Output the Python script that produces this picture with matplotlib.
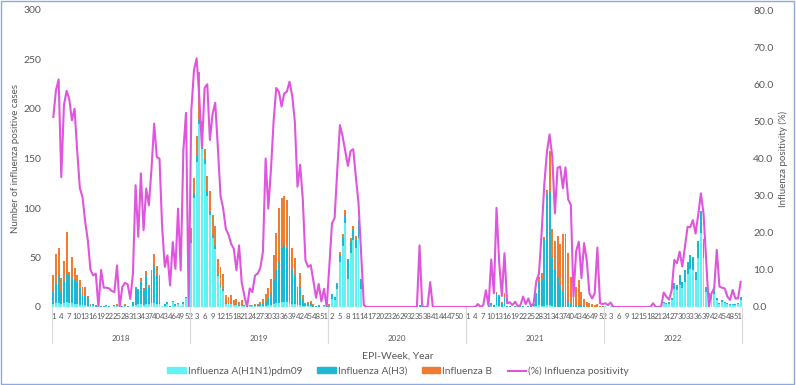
import numpy as np
import matplotlib.pyplot as plt
import matplotlib.transforms as mtransforms
from matplotlib.patches import Rectangle, Patch
from matplotlib.lines import Line2D

plt.rcParams['font.family'] = ['Lato', 'DejaVu Sans']

# data ------------------------------------------------------------
years = ['2018', '2019', '2020', '2021', '2022']

h1n1_2018 = [3, 4, 4, 3, 4, 5, 4, 4, 3, 3, 2, 2, 2, 1, 1, 1, 0, 0, 0, 0, 1, 0, 0, 1, 1, 0,
             0, 1, 0, 0, 1, 2, 3, 3, 2, 3, 3, 4, 4, 3, 3, 1, 1, 3, 0, 5, 1, 3, 1, 3, 9, 0]
h3_2018 = [12, 20, 28, 12, 22, 29, 28, 26, 25, 22, 17, 10, 10, 9, 1, 2, 1, 0, 1, 1, 1, 1, 0, 1, 1, 0,
           1, 1, 1, 0, 4, 17, 14, 22, 15, 28, 17, 27, 38, 29, 26, 0, 2, 2, 1, 1, 2, 1, 0, 2, 1, 0]
b_2018 = [17, 30, 28, 14, 20, 42, 3, 21, 11, 7, 8, 8, 8, 1, 1, 0, 1, 0, 0, 0, 0, 0, 0, 0, 1, 0,
          0, 1, 0, 0, 0, 1, 1, 4, 2, 5, 2, 6, 12, 9, 3, 0, 0, 0, 0, 0, 0, 0, 0, 0, 0, 0]
pos_2018 = [51.2, 58.4, 61.3, 35.0, 54.4, 58.2, 56.0, 50.3, 53.4, 42.0, 32.0, 29.6, 23.0, 18.0,
            10.0, 8.5, 9.0, 0.0, 10.0, 5.2, 5.2, 5.0, 4.3, 4.0, 11.2, 0.0, 5.4, 6.5, 6.1, 2.2,
            9.0, 32.8, 18.9, 36.0, 20.7, 31.9, 27.4, 37.3, 49.4, 40.4, 40.0, 21.6, 10.8, 13.9,
            5.8, 17.5, 10.3, 26.5, 9.9, 42.2, 52.3, 0.0]

h1n1_2019 = [65, 110, 146, 185, 160, 144, 112, 93, 70, 59, 31, 20, 16, 3, 3, 3, 2, 2, 1, 1, 1, 0, 1, 1, 1, 1,
             1, 1, 1, 2, 2, 3, 4, 4, 5, 5, 5, 4, 3, 3, 2, 2, 1, 1, 1, 1, 0, 0, 0, 0, 1, 0]
h3_2019 = [3, 5, 7, 5, 6, 6, 5, 4, 3, 3, 2, 2, 2, 1, 1, 1, 0, 1, 0, 0, 0, 0, 0, 0, 1, 1,
           2, 3, 5, 7, 12, 24, 33, 42, 55, 58, 55, 50, 35, 28, 12, 18, 7, 2, 3, 3, 2, 1, 1, 0, 1, 0]
b_2019 = [12, 15, 20, 47, 22, 10, 15, 20, 20, 20, 15, 18, 15, 8, 6, 8, 5, 5, 4, 6, 1, 0, 1, 1, 1, 1,
          2, 4, 7, 10, 14, 26, 38, 54, 50, 49, 48, 38, 22, 18, 6, 14, 4, 1, 1, 2, 1, 0, 1, 0, 0, 1]
pos_2019 = [53.0, 63.8, 67.0, 56.6, 43.0, 59.0, 60.0, 45.0, 52.0, 55.0, 43.0, 30.0, 26.5, 21.0,
            19.5, 17.0, 15.7, 9.9, 16.6, 6.5, 3.0, 0.0, 5.0, 4.0, 8.5, 9.0, 10.5, 15.0, 40.0, 26.5,
            37.0, 50.0, 59.0, 58.0, 54.0, 57.5, 58.0, 60.7, 57.0, 50.0, 32.4, 38.3, 29.0, 12.6,
            10.8, 11.3, 7.0, 2.5, 6.2, 1.5, 4.9, 0.0]

h1n1_2020 = [0, 8, 7, 18, 45, 62, 85, 28, 55, 68, 60, 70, 18, 0, 0, 0, 0, 0, 0, 0, 0, 0, 0, 0, 0, 0,
             0, 0, 0, 0, 0, 0, 0, 0, 0, 0, 0, 0, 0, 0, 0, 0, 0, 0, 0, 0, 0, 0, 0, 0, 0, 0]
h3_2020 = [1, 5, 3, 5, 8, 8, 8, 20, 12, 11, 8, 18, 10, 0, 0, 0, 0, 0, 0, 0, 0, 0, 0, 0, 0, 0,
           0, 0, 0, 0, 0, 0, 0, 0, 2, 0, 0, 0, 0, 0, 0, 0, 0, 0, 0, 0, 0, 0, 0, 0, 0, 0]
b_2020 = [2, 0, 0, 1, 3, 4, 5, 0, 3, 3, 4, 0, 0, 0, 0, 0, 0, 0, 0, 0, 0, 0, 0, 0, 0, 0,
          0, 0, 0, 0, 0, 0, 0, 0, 0, 0, 0, 0, 0, 0, 0, 0, 0, 0, 0, 0, 0, 0, 0, 0, 0, 0]
pos_2020 = [11.0, 22.5, 24.0, 37.0, 49.0, 46.0, 42.0, 38.0, 42.0, 42.5, 35.0, 28.0, 14.0, 0.5,
            0.0, 0.0, 0.0, 0.0, 0.0, 0.0, 0.0, 0.0, 0.0, 0.0, 0.0, 0.0, 0.0, 0.0, 0.0, 0.0,
            0.0, 0.0, 0.0, 0.0, 16.6, 0.0, 0.0, 0.0, 6.7, 0.0, 0.0, 0.0, 0.0, 0.0, 0.0, 0.0,
            0.0, 0.0, 0.0, 0.0, 0.0, 0.0]

h1n1_2021 = [0, 0, 0, 0, 0, 0, 0, 0, 0, 1, 0, 2, 1, 0, 1, 0, 0, 0, 0, 0, 0, 0, 0, 0, 1, 1,
             1, 2, 1, 1, 2, 2, 1, 0, 0, 0, 0, 0, 0, 0, 0, 0, 0, 0, 0, 0, 0, 0, 0, 0, 0, 0]
h3_2021 = [0, 0, 0, 0, 0, 0, 0, 0, 1, 3, 2, 12, 10, 4, 9, 1, 1, 0, 1, 0, 1, 1, 0, 1, 1, 2,
           12, 24, 26, 68, 112, 115, 48, 38, 30, 22, 15, 10, 5, 3, 1, 2, 2, 1, 1, 0, 0, 0, 0, 0, 0, 0]
b_2021 = [0, 0, 0, 0, 0, 0, 0, 0, 0, 0, 0, 1, 1, 1, 4, 0, 0, 0, 0, 0, 0, 0, 0, 0, 0, 0,
          1, 4, 7, 2, 4, 41, 30, 29, 42, 42, 59, 64, 50, 27, 11, 18, 25, 14, 7, 5, 4, 3, 2, 3, 1, 1]
pos_2021 = [0.0, 0.0, 0.0, 0.0, 0.8, 0.0, 0.5, 4.5, 0.3, 12.8, 3.7, 26.7, 12.0, 3.0, 14.5,
            1.0, 1.3, 0.5, 1.4, 0.2, 0.5, 2.8, 0.8, 2.3, 0.2, 1.0, 7.0, 9.0, 20.0, 33.0,
            41.8, 46.5, 40.5, 25.2, 37.5, 37.8, 32.0, 37.6, 29.0, 27.5, 2.8, 15.0, 17.6, 7.8,
            17.2, 12.6, 3.7, 2.3, 3.7, 16.0, 1.0, 0.8]

h1n1_2022 = [1, 0, 1, 0, 0, 0, 0, 0, 0, 0, 0, 0, 0, 0, 0, 0, 0, 0, 0, 0, 0, 1, 4, 3, 3, 7,
             18, 17, 22, 19, 25, 33, 38, 37, 27, 49, 75, 49, 15, 10, 8, 13, 7, 3, 5, 4, 3, 2, 2, 2, 3, 7]
h3_2022 = [0, 0, 0, 0, 0, 0, 0, 0, 0, 0, 0, 0, 0, 0, 0, 0, 0, 0, 0, 0, 0, 0, 1, 1, 2, 2,
           6, 5, 10, 6, 12, 12, 15, 14, 8, 18, 22, 20, 5, 4, 4, 6, 2, 1, 2, 1, 1, 1, 1, 1, 1, 3]
b_2022 = [0] * 52
pos_2022 = [1.0, 0.5, 1.2, 0.0, 0.0, 0.0, 0.0, 0.0, 0.0, 0.0, 0.0, 0.0, 0.0, 0.0, 0.0, 0.0,
            0.0, 0.0, 1.0, 0.0, 0.0, 0.0, 3.9, 2.8, 2.0, 4.5, 12.7, 11.8, 14.9, 10.9, 16.3,
            21.6, 21.5, 23.4, 19.8, 24.8, 30.6, 25.2, 12.7, 0.0, 3.7, 5.0, 15.4, 5.5, 5.2, 5.0,
            2.8, 1.9, 4.6, 2.3, 2.3, 6.8]

h1n1 = np.array(h1n1_2018 + h1n1_2019 + h1n1_2020 + h1n1_2021 + h1n1_2022)
h3 = np.array(h3_2018 + h3_2019 + h3_2020 + h3_2021 + h3_2022)
flu_b = np.array(b_2018 + b_2019 + b_2020 + b_2021 + b_2022)
positivity = np.array(pos_2018 + pos_2019 + pos_2020 + pos_2021 + pos_2022)

week_nums = list(range(1, 53)) * len(years)

# colours ---------------------------------------------------------
c_h1 = '#63F1F6'
c_h3 = '#1DB9D3'
c_b = '#EE7D31'
c_line = '#E055DE'
c_text = '#595959'

# plot ------------------------------------------------------------
fig = plt.figure(figsize=(7.96, 3.85), dpi=100)
ax = fig.add_axes([52 / 796, 1 - 307 / 385, 690 / 796, 297 / 385])

x = np.arange(len(week_nums))
ax.bar(x, h1n1, width=0.72, color=c_h1, label='Influenza A(H1N1)pdm09')
ax.bar(x, h3, width=0.72, bottom=h1n1, color=c_h3, label='Influenza A(H3)')
ax.bar(x, flu_b, width=0.72, bottom=h1n1 + h3, color=c_b, label='Influenza B')

ax.set_xlim(-0.5, len(x) - 0.5)
ax.set_ylim(0, 300)
ax.set_yticks(np.arange(0, 301, 50))
tick_pos = [i for i in x if i % 3 == 0]
ax.set_xticks(tick_pos)
ax.set_xticklabels([str(week_nums[i]) for i in tick_pos], fontsize=5.6, color=c_text)
ax.tick_params(axis='x', length=0, pad=4)
ax.tick_params(axis='y', length=0, labelsize=7.5, labelcolor=c_text, pad=8)
for s in ax.spines.values():
    s.set_visible(False)
ax.set_ylabel('Number of influenza positive cases', fontsize=7, color=c_text, labelpad=2)

ax2 = ax.twinx()
ax2.plot(x, positivity, color=c_line, lw=1.5, label='(%) Influenza positivity')
ax2.set_ylim(0, 80)
ax2.set_yticks(np.arange(0, 81, 10))
ax2.set_yticklabels(['%.1f' % v for v in np.arange(0, 81, 10)])
ax2.tick_params(axis='y', length=0, labelsize=7.5, labelcolor=c_text, pad=8)
for s in ax2.spines.values():
    s.set_visible(False)
ax2.set_ylabel('Influenza positivity (%)', fontsize=7, color=c_text, labelpad=4)

# year labels and separators
trans = mtransforms.blended_transform_factory(ax.transData, ax.transAxes)
n = 52
for k, yr in enumerate(years):
    ax.text(k * n + (n - 1) / 2, -0.105, yr, transform=trans, ha='center', va='center',
            fontsize=5.8, color=c_text)
for k in range(len(years) + 1):
    ax.plot([k * n - 0.5, k * n - 0.5], [0, -0.12], transform=trans, color='#D9D9D9',
            lw=0.8, clip_on=False)

fig.text(0.5, 1 - 356 / 385, 'EPI-Week, Year', ha='center', va='center', fontsize=7.5, color=c_text)

handles = [Patch(color=c_h1), Patch(color=c_h3), Patch(color=c_b), Line2D([], [], color=c_line, lw=1.5)]
labels = ['Influenza A(H1N1)pdm09', 'Influenza A(H3)', 'Influenza B', '(%) Influenza positivity']
fig.legend(handles, labels, loc='center', bbox_to_anchor=(0.5, 1 - 371 / 385), ncol=4,
           frameon=False, fontsize=7.3, handlelength=1.8, handleheight=0.5, columnspacing=1.5,
           handletextpad=0.2, labelcolor=c_text)

fig.patches.append(Rectangle((0.001, 0.002), 0.997, 0.995, transform=fig.transFigure,
                             fill=False, edgecolor='#8EA9DB', lw=1))

fig.savefig('out.png', dpi=100)
